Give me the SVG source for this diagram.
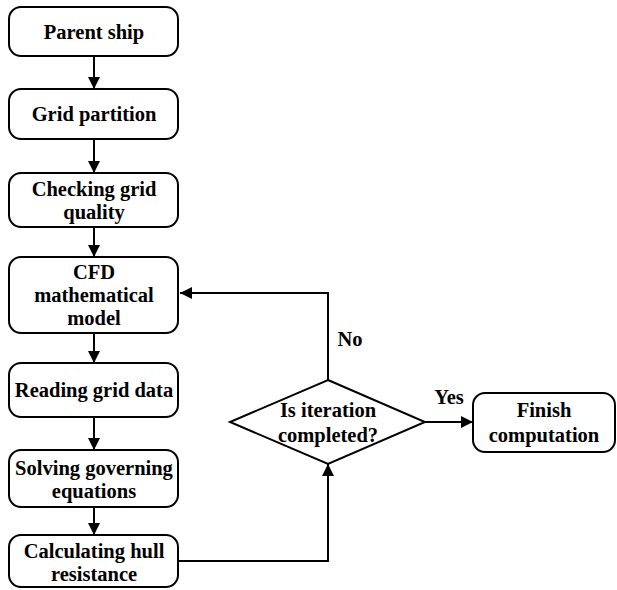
<svg xmlns="http://www.w3.org/2000/svg" width="617" height="590" viewBox="0 0 617 590">
<style>
.b{fill:#fff;stroke:#000;stroke-width:2}
.t{font-family:"Liberation Serif","Times New Roman",serif;font-weight:bold;font-size:20.5px;text-anchor:middle;fill:#000}
.c{fill:none;stroke:#000;stroke-width:2}
</style>
<defs>
<marker id="ah" viewBox="0 0 12 12" refX="12" refY="6" markerWidth="12" markerHeight="12" orient="auto" markerUnits="userSpaceOnUse"><path d="M0,0L12,6L0,12Z" fill="#000"/></marker>
</defs>
<rect width="617" height="590" fill="#fff"/>
<g id="connectors">
<path class="c" d="M94,56V89" marker-end="url(#ah)"/>
<path class="c" d="M94,139V173" marker-end="url(#ah)"/>
<path class="c" d="M94,227V257" marker-end="url(#ah)"/>
<path class="c" d="M94,333V363" marker-end="url(#ah)"/>
<path class="c" d="M94,417V450" marker-end="url(#ah)"/>
<path class="c" d="M94,507V535" marker-end="url(#ah)"/>
<path class="c" d="M179,561H328V464" marker-end="url(#ah)"/>
<path class="c" d="M328,380V293H180" marker-end="url(#ah)"/>
<path class="c" d="M425,422H473" marker-end="url(#ah)"/>
<text class="t" x="350" y="346">No</text>
<text class="t" x="449" y="404">Yes</text>
</g>
<g id="n1"><rect class="b" x="9" y="7" width="169" height="49" rx="12"/><text class="t" x="94" y="39">Parent ship</text></g>
<g id="n2"><rect class="b" x="9" y="89" width="169" height="50" rx="12"/><text class="t" x="94" y="121">Grid partition</text></g>
<g id="n3"><rect class="b" x="9" y="173" width="169" height="54" rx="12"/><text class="t" x="94" y="196">Checking grid</text><text class="t" x="94" y="219">quality</text></g>
<g id="n4"><rect class="b" x="9" y="257" width="169" height="76" rx="12"/><text class="t" x="94" y="279">CFD</text><text class="t" x="94" y="302">mathematical</text><text class="t" x="94" y="325">model</text></g>
<g id="n5"><rect class="b" x="9" y="363" width="169" height="54" rx="12"/><text class="t" x="94" y="397">Reading grid data</text></g>
<g id="n6"><rect class="b" x="9" y="450" width="169" height="57" rx="12"/><text class="t" x="94" y="475">Solving governing</text><text class="t" x="94" y="498">equations</text></g>
<g id="n7"><rect class="b" x="9" y="535" width="169" height="52" rx="12"/><text class="t" x="94" y="558">Calculating hull</text><text class="t" x="94" y="581">resistance</text></g>
<g id="d1"><path class="b" d="M328,380L425,422L328,464L230,422Z"/><text class="t" x="328" y="417">Is iteration</text><text class="t" x="328" y="442">completed?</text></g>
<g id="n8"><rect class="b" x="473" y="393" width="142" height="59" rx="12"/><text class="t" x="544" y="417">Finish</text><text class="t" x="544" y="442">computation</text></g>
</svg>
